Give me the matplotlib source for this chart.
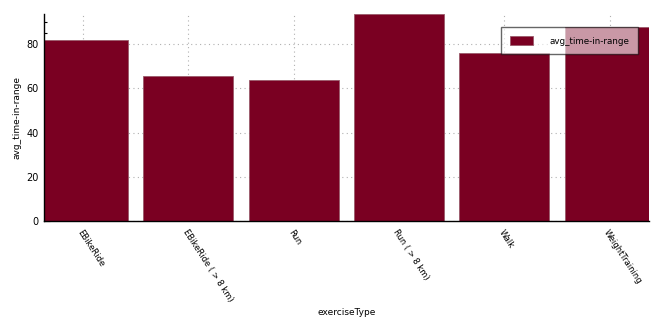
import numpy as np
import matplotlib.pyplot as plt
from matplotlib.ticker import MultipleLocator

exercise_types = ['EBikeRide', 'EBikeRide ( > 8 km)', 'Run', 'Run ( > 8 km)', 'Walk', 'WeightTraining']
avg_time_in_range = [81.7, 65.5, 63.7, 93.6, 75.8, 87.7]

bar_color = '#7a0022'

fig = plt.figure(figsize=(6.64, 3.27), dpi=100)
ax = fig.add_axes([0.066, 0.324, 0.911, 0.633])

x = np.arange(len(exercise_types))
ax.bar(x, avg_time_in_range, width=0.855, color=bar_color, edgecolor='#9a5a6a',
       linewidth=0.6, label='avg_time-in-range', zorder=2)

ax.set_xlim(-0.373, 5.37)
ax.set_ylim(0, 93.6)
ax.yaxis.set_major_locator(MultipleLocator(20))
ax.yaxis.set_minor_locator(MultipleLocator(5))
ax.set_xticks(x)
ax.set_xticklabels(exercise_types, rotation=-57, ha='left', va='top',
                   rotation_mode='anchor', fontsize=6)
ax.tick_params(axis='both', direction='in', length=4, width=0.8)
ax.tick_params(axis='y', labelsize=7)
ax.tick_params(axis='y', which='minor', direction='in', length=2.5, width=0.8)
ax.tick_params(axis='x', pad=5)

ax.grid(True, linestyle=(0, (1, 3)), color='#b0b0b0', linewidth=0.8, zorder=0)
ax.set_axisbelow(True)
for side in ['top', 'right']:
    ax.spines[side].set_visible(False)
for side in ['left', 'bottom']:
    ax.spines[side].set_linewidth(1.0)

ax.set_xlabel('exerciseType', fontsize=6.5)
ax.xaxis.set_label_coords(0.5, -0.42)
ax.set_ylabel('avg_time-in-range', fontsize=6.5)

leg = ax.legend(loc='upper right', bbox_to_anchor=(0.982, 0.937), fontsize=6.3,
                fancybox=False, framealpha=0.6, edgecolor='black',
                handlelength=2.6, handleheight=1.3, borderpad=1.0,
                borderaxespad=0, handletextpad=1.9)
leg.get_frame().set_linewidth(1.0)

fig.savefig('out.png', dpi=100)
